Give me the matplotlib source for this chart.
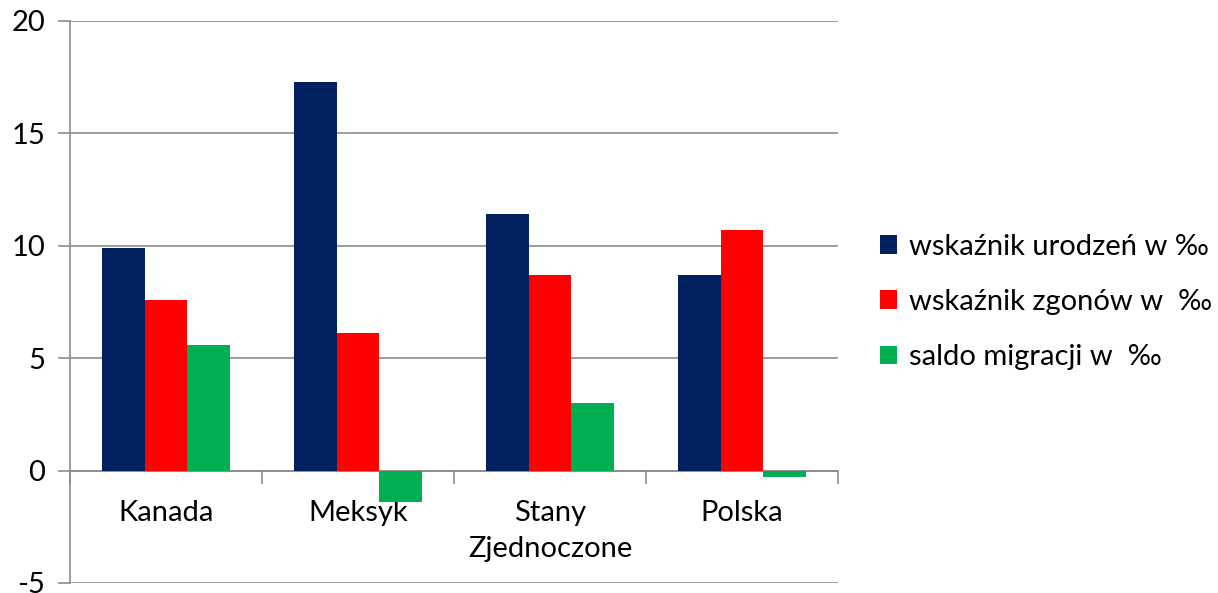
import numpy as np
import matplotlib.pyplot as plt

countries = ["Kanada", "Meksyk", "Stany\nZjednoczone", "Polska"]
births = [9.9, 17.3, 11.4, 8.7]
deaths = [7.6, 6.1, 8.7, 10.7]
migration = [5.6, -1.4, 3.0, -0.3]
series_names = ["wskaźnik urodzeń w ‰", "wskaźnik zgonów w  ‰", "saldo migracji w  ‰"]
colors = ["#002060", "#FF0000", "#00B050"]

plt.rcParams['font.family'] = ['Lato', 'DejaVu Sans']
plt.rcParams['font.size'] = 21
plt.rcParams['axes.unicode_minus'] = False

fig = plt.figure(figsize=(12.18, 5.93), dpi=100)
ax = fig.add_axes([0.0575, 0.0169, 0.6305, 0.9477])

x = np.arange(len(countries)) + 0.5
w = 1 / 4.5
for i, vals in enumerate([births, deaths, migration]):
    ax.bar(x + (i - 1) * w, vals, width=w, color=colors[i], label=series_names[i], zorder=3)

grey = "#8c8c8c"
ax.set_xlim(0, len(countries))
ax.set_ylim(-5, 20)
ax.set_yticks(np.arange(-5, 21, 5))
ax.yaxis.grid(True, color=grey, linewidth=1.2, zorder=0)
ax.tick_params(axis='y', direction='out', length=9, width=1.2, color=grey, pad=9, labelsize=21)

for s in ['top', 'right']:
    ax.spines[s].set_visible(False)
ax.spines['left'].set_color(grey)
ax.spines['left'].set_linewidth(1.2)
ax.spines['bottom'].set_position(('data', 0))
ax.spines['bottom'].set_color(grey)
ax.spines['bottom'].set_linewidth(1.2)

ax.set_xticks(np.arange(0, len(countries) + 1))
ax.set_xticklabels([])
ax.tick_params(axis='x', which='major', direction='out', length=9, width=1.2, color=grey)
ax.set_xticks(x, minor=True)
ax.set_xticklabels(countries, minor=True, linespacing=1.5)
ax.tick_params(axis='x', which='minor', length=0, pad=21, labelsize=21)

ax.legend(loc='center left', bbox_to_anchor=(1.02, 0.5), frameon=False,
          handlelength=0.6, handleheight=0.6, handletextpad=0.4,
          labelspacing=1.0, fontsize=21)

fig.savefig("out.png", dpi=100)
